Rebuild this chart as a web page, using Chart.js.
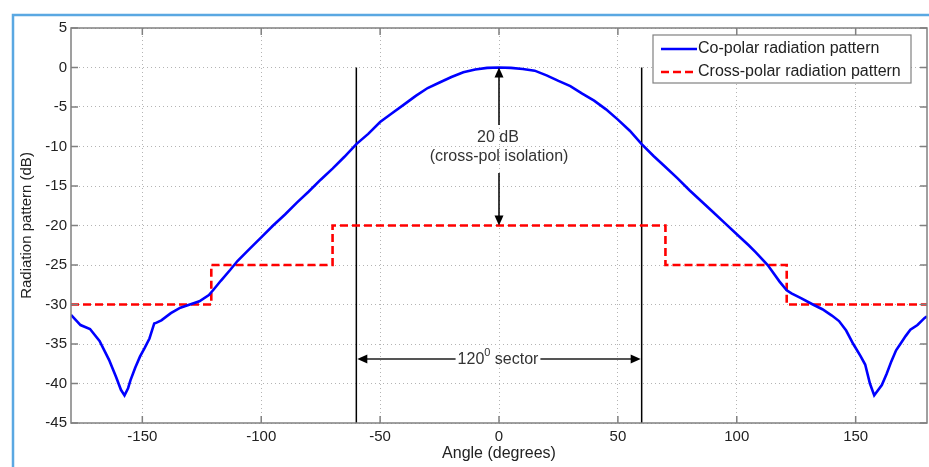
<!DOCTYPE html>
<html>
<head>
<meta charset="utf-8">
<script src="https://cdn.jsdelivr.net/npm/chart.js@4.4.1/dist/chart.umd.min.js"></script>
<style>
  html, body { margin: 0; padding: 0; background: #fff; }
  #wrap { width: 929px; height: 467px; }
</style>
</head>
<body>
<div id="wrap"><canvas id="c" width="929" height="467"></canvas></div>
<script>
// values
const angles = [-180, -176, -172, -168, -164, -161, -159, -157.5, -156, -155, -153, -151, -149, -147, -145, -144, -142,
    -138, -134, -130, -126, -122, -120, -117, -113, -110, -105, -100, -95, -90, -85, -80, -75, -70, -65, -60, -55, -50,
    -45, -40, -35, -30, -25, -20, -15, -10, -5, 0, 5, 10, 15, 20, 25, 30, 35, 40, 45, 50, 55, 60, 65, 70, 75, 80, 85, 90,
    95, 100, 105, 108, 113, 118, 121, 123, 127, 132, 136, 140, 143, 146, 149, 152, 154, 156, 157.8, 159, 161, 163, 165,
    167, 169, 171, 173, 176, 179, 180];
const coPolar = [-31.3, -32.6, -33.1, -34.6, -37.0, -39.2, -40.8, -41.5, -40.6, -39.6, -38.0, -36.6, -35.5, -34.3, -32.4, -32.3, -32.0,
    -31.1, -30.4, -30.0, -29.6, -28.8, -28.1, -27.0, -25.6, -24.5, -23.0, -21.5, -20.0, -18.6, -17.1, -15.7, -14.2, -12.8, -11.3, -9.7, -8.4, -6.9,
    -5.8, -4.7, -3.6, -2.6, -1.9, -1.2, -0.6, -0.25, -0.05, 0, -0.05, -0.2, -0.4, -1.0, -1.7, -2.35, -3.3, -4.2, -5.3, -6.6, -8.0, -9.7, -11.2, -12.6, -14.0, -15.5, -16.9, -18.3,
    -19.7, -21.1, -22.5, -23.4, -25.0, -27.1, -28.2, -28.6, -29.2, -30.0, -30.6, -31.4, -32.1, -33.3, -35.0, -36.5, -37.6, -40.0, -41.5, -41.0, -40.2, -38.8, -37.2,
    -35.8, -34.9, -34.0, -33.2, -32.6, -31.7, -31.5];

const crossAngles = [-180, -121, -121, -70, -70, 70, 70, 121, 121, 180];
const crossPolar = [-30, -30, -25, -25, -20, -20, -25, -25, -30, -30];

const xTicks = [-150, -100, -50, 0, 50, 100, 150];
const yTicks = [5, 0, -5, -10, -15, -20, -25, -30, -35, -40, -45];

const sectorEdges = [-60, 60];
const isolationTop = 0;
const isolationBottom = -20;
const sectorLevel = -36.9;

const toPoints = (xs, ys) => xs.map((x, i) => ({ x: x, y: ys[i] }));

const FONT = '"Liberation Sans", Arial, sans-serif';

const arrowHead = (ctx, x, y, dir) => {
    // dir: 'up' | 'down' | 'left' | 'right'
    const len = 10, half = 4.5;
    ctx.beginPath();
    ctx.moveTo(x, y);
    if (dir === 'up') { ctx.lineTo(x - half, y + len); ctx.lineTo(x + half, y + len); }
    if (dir === 'down') { ctx.lineTo(x - half, y - len); ctx.lineTo(x + half, y - len); }
    if (dir === 'left') { ctx.lineTo(x + len, y - half); ctx.lineTo(x + len, y + half); }
    if (dir === 'right') { ctx.lineTo(x - len, y - half); ctx.lineTo(x - len, y + half); }
    ctx.closePath();
    ctx.fill();
};

const decorations = {
    id: 'decorations',
    afterDraw(chart) {
        const ctx = chart.ctx;
        const xs = chart.scales.x, ys = chart.scales.y;
        const a = chart.chartArea;
        ctx.save();

        // light blue frame of the picture
        ctx.strokeStyle = '#5aa8e2';
        ctx.lineWidth = 2.5;
        ctx.beginPath();
        ctx.moveTo(13, chart.height);
        ctx.lineTo(13, 15);
        ctx.lineTo(chart.width, 15);
        ctx.stroke();

        // axes box and inward ticks
        ctx.strokeStyle = '#808080';
        ctx.lineWidth = 1.5;
        ctx.strokeRect(a.left, a.top, a.right - a.left, a.bottom - a.top);
        ctx.beginPath();
        xTicks.forEach(v => {
            const px = xs.getPixelForValue(v);
            ctx.moveTo(px, a.bottom); ctx.lineTo(px, a.bottom - 7);
            ctx.moveTo(px, a.top); ctx.lineTo(px, a.top + 7);
        });
        yTicks.forEach(v => {
            const py = ys.getPixelForValue(v);
            ctx.moveTo(a.left, py); ctx.lineTo(a.left + 7, py);
            ctx.moveTo(a.right, py); ctx.lineTo(a.right - 7, py);
        });
        ctx.stroke();

        // 20 dB isolation arrow
        const ax = xs.getPixelForValue(0);
        const yTop = ys.getPixelForValue(isolationTop);
        const yBot = ys.getPixelForValue(isolationBottom);
        ctx.font = '16px ' + FONT;
        ctx.fillStyle = '#333';
        ctx.textAlign = 'center';
        ctx.textBaseline = 'middle';
        ctx.fillText('20 dB', ax - 1, 138);
        ctx.fillText('(cross-pol isolation)', ax, 157);
        ctx.strokeStyle = '#000';
        ctx.fillStyle = '#000';
        ctx.lineWidth = 1.5;
        ctx.beginPath();
        ctx.moveTo(ax, yTop + 4); ctx.lineTo(ax, 125);
        ctx.moveTo(ax, 173); ctx.lineTo(ax, yBot - 4);
        ctx.stroke();
        arrowHead(ctx, ax, yTop, 'up');
        arrowHead(ctx, ax, yBot, 'down');

        // 120 degree sector arrow
        const sy = ys.getPixelForValue(sectorLevel);
        const sl = xs.getPixelForValue(sectorEdges[0]);
        const sr = xs.getPixelForValue(sectorEdges[1]);
        ctx.font = '16px ' + FONT;
        const w1 = ctx.measureText('120').width;
        ctx.font = '11px ' + FONT;
        const w2 = ctx.measureText('0').width;
        ctx.font = '16px ' + FONT;
        const w3 = ctx.measureText(' sector').width;
        const total = w1 + w2 + w3;
        const tx = ax - 1 - total / 2;
        ctx.fillStyle = '#333';
        ctx.textAlign = 'left';
        ctx.fillText('120', tx, sy + 1);
        ctx.font = '11px ' + FONT;
        ctx.fillText('0', tx + w1, sy - 6);
        ctx.font = '16px ' + FONT;
        ctx.fillText(' sector', tx + w1 + w2, sy + 1);
        ctx.strokeStyle = '#555';
        ctx.lineWidth = 2;
        ctx.beginPath();
        ctx.moveTo(sl + 6, sy); ctx.lineTo(tx - 2, sy);
        ctx.moveTo(tx + total + 2, sy); ctx.lineTo(sr - 6, sy);
        ctx.stroke();
        ctx.fillStyle = '#000';
        arrowHead(ctx, sl + 1, sy, 'left');
        arrowHead(ctx, sr - 1, sy, 'right');

        // legend box
        const lx = 653, ly = 35, lw = 258, lh = 48;
        ctx.fillStyle = '#fff';
        ctx.fillRect(lx, ly, lw, lh);
        ctx.strokeStyle = '#808080';
        ctx.lineWidth = 1.2;
        ctx.strokeRect(lx, ly, lw, lh);
        const rows = [chart.data.datasets[0], chart.data.datasets[1]];
        rows.forEach((ds, i) => {
            const ry = 49 + i * 23;
            ctx.strokeStyle = ds.borderColor;
            ctx.lineWidth = ds.borderWidth;
            ctx.setLineDash(ds.borderDash || []);
            ctx.beginPath();
            ctx.moveTo(661, ry); ctx.lineTo(697, ry);
            ctx.stroke();
            ctx.setLineDash([]);
            ctx.fillStyle = '#222';
            ctx.font = '16px ' + FONT;
            ctx.textAlign = 'left';
            ctx.textBaseline = 'middle';
            ctx.fillText(ds.label, 698, ry);
        });

        ctx.restore();
    }
};

new Chart(document.getElementById('c'), {
    type: 'line',
    data: {
        datasets: [
            {
                label: 'Co-polar radiation pattern',
                data: toPoints(angles, coPolar),
                borderColor: '#0000ff',
                borderWidth: 2.6,
                pointRadius: 0,
                tension: 0,
                order: 1
            },
            {
                label: 'Cross-polar radiation pattern',
                data: toPoints(crossAngles, crossPolar),
                borderColor: '#ff0000',
                borderWidth: 2.6,
                borderDash: [8, 4],
                pointRadius: 0,
                tension: 0,
                order: 2
            },
            {
                label: 'sector edge left',
                data: [{ x: sectorEdges[0], y: 0 }, { x: sectorEdges[0], y: -45 }],
                borderColor: '#000',
                borderWidth: 1.5,
                pointRadius: 0,
                order: 3
            },
            {
                label: 'sector edge right',
                data: [{ x: sectorEdges[1], y: 0 }, { x: sectorEdges[1], y: -45 }],
                borderColor: '#000',
                borderWidth: 1.5,
                pointRadius: 0,
                order: 3
            }
        ]
    },
    options: {
        responsive: false,
        animation: false,
        devicePixelRatio: 1,
        layout: { padding: { left: 0, top: 28, right: 2, bottom: 0 } },
        plugins: {
            legend: { display: false },
            tooltip: { enabled: false }
        },
        scales: {
            x: {
                type: 'linear',
                min: -180,
                max: 180,
                afterBuildTicks: scale => { scale.ticks = xTicks.map(v => ({ value: v })); },
                afterFit: scale => { scale.height = 44; },
                grid: { color: '#b4b4b4', lineWidth: 1, drawTicks: false },
                border: { display: false, dash: [1, 3] },
                ticks: { color: '#222', font: { family: FONT, size: 15 }, padding: 5, maxRotation: 0 },
                title: {
                    display: true,
                    text: 'Angle (degrees)',
                    color: '#222',
                    font: { family: FONT, size: 16 },
                    padding: { top: 0, bottom: 4 }
                }
            },
            y: {
                type: 'linear',
                min: -45,
                max: 5,
                afterBuildTicks: scale => { scale.ticks = yTicks.map(v => ({ value: v })); },
                afterFit: scale => { scale.width = 71; },
                grid: { color: '#b4b4b4', lineWidth: 1, drawTicks: false },
                border: { display: false, dash: [1, 3] },
                ticks: { color: '#222', font: { family: FONT, size: 15 }, padding: 4 },
                title: {
                    display: true,
                    text: 'Radiation pattern (dB)',
                    color: '#222',
                    font: { family: FONT, size: 15 },
                    padding: { top: 18, bottom: 0 }
                }
            }
        }
    },
    plugins: [decorations]
});
</script>
</body>
</html>
